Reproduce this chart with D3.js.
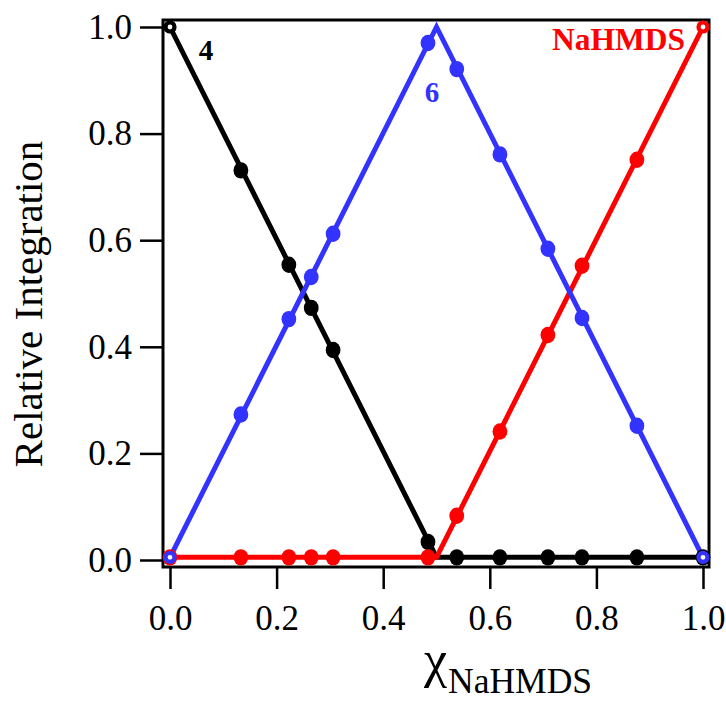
<!DOCTYPE html>
<html><head><meta charset="utf-8">
<script src="https://cdn.jsdelivr.net/npm/d3@7"></script>
<style>body{margin:0;background:#fff}svg{display:block}</style>
</head><body>
<script>
// ---- data ----
const xVals = [0, 0.133, 0.223, 0.265, 0.306, 0.484, 0.538, 0.619, 0.709, 0.773, 0.876, 1.0];
const series4 = [1.0, 0.731, 0.554, 0.473, 0.394, 0.034, 0.005, 0.005, 0.005, 0.005, 0.005, 0.005];
const series6 = [0.005, 0.273, 0.452, 0.531, 0.612, 0.970, 0.921, 0.761, 0.584, 0.454, 0.252, 0.005];
const seriesNa = [0.005, 0.005, 0.005, 0.005, 0.005, 0.005, 0.083, 0.241, 0.422, 0.552, 0.751, 1.0];
const fitX = [0, 0.5, 1.0];
const fit4 = [1.0, 0.005, 0.005];
const fit6 = [0.005, 1.0, 0.005];
const fitNa = [0.005, 0.005, 1.0];
const open4 = [0];          // indices drawn as open markers
const open6 = [0, 11];
const openNa = [11];
const xTicks = [0, 0.2, 0.4, 0.6, 0.8, 1.0];
const yTicks = [0, 0.2, 0.4, 0.6, 0.8, 1.0];

const W = 726, H = 703;
const svg = d3.select("body").append("svg").attr("width", W).attr("height", H);
const font = "'Liberation Serif','Times New Roman',serif";

const x = d3.scaleLinear().domain([0, 1]).range([170, 703]);
const y = d3.scaleLinear().domain([0, 1]).range([560, 27]);

// frame
const fL = 163, fR = 709, fT = 20, fB = 567;
svg.append("rect").attr("x", fL).attr("y", fT).attr("width", fR - fL).attr("height", fB - fT)
  .attr("fill", "none").attr("stroke", "#000").attr("stroke-width", 3);

// axes
const yAxis = d3.axisLeft(y).tickValues(yTicks).tickFormat(d3.format(".1f")).tickSize(23).tickPadding(8);
const gy = svg.append("g").attr("transform", `translate(${fL},0)`).call(yAxis);
const xAxis = d3.axisBottom(x).tickValues(xTicks).tickFormat(d3.format(".1f")).tickSize(22).tickPadding(16);
const gx = svg.append("g").attr("transform", `translate(0,${fB})`).call(xAxis);
[gx, gy].forEach(g => {
  g.select(".domain").remove();
  g.selectAll(".tick line").attr("stroke", "#000").attr("stroke-width", 2.5);
  g.selectAll(".tick text").attr("font-family", font).attr("font-size", 35).attr("fill", "#000");
});

// series
const data = [
  {vals: series4, fit: fit4, color: "#000000", open: open4},
  {vals: series6, fit: fit6, color: "#3333ff", open: open6},
  {vals: seriesNa, fit: fitNa, color: "#ff0000", open: openNa}
];
const line = d3.line().x(d => x(d[0])).y(d => y(d[1]));
const order = [0, 2, 1];
order.forEach(i => {
  const s = data[i];
  svg.append("path").datum(fitX.map((fx, k) => [fx, s.fit[k]]))
    .attr("d", line).attr("fill", "none").attr("stroke", s.color).attr("stroke-width", 5)
    .attr("stroke-linejoin", "miter");
});
order.forEach(i => {
  const s = data[i];
  const pts = xVals.map((xv, k) => ({x: xv, y: s.vals[k], open: s.open.includes(k)}));
  svg.append("g").selectAll("ellipse").data(pts).join("ellipse")
    .attr("cx", d => x(d.x)).attr("cy", d => y(d.y))
    .attr("rx", d => d.open ? 4.5 : 7.4).attr("ry", d => d.open ? 4.5 : 8.2)
    .attr("fill", d => d.open ? "#fff" : s.color)
    .attr("stroke", s.color).attr("stroke-width", d => d.open ? 4.2 : 0);
});

// series labels
svg.append("text").attr("x", 206).attr("y", 60).attr("text-anchor", "middle")
  .attr("font-family", font).attr("font-weight", "bold").attr("font-size", 29).attr("fill", "#000").text("4");
svg.append("text").attr("x", 432).attr("y", 102).attr("text-anchor", "middle")
  .attr("font-family", font).attr("font-weight", "bold").attr("font-size", 29).attr("fill", "#3333ff").text("6");
svg.append("text").attr("x", 685).attr("y", 50).attr("text-anchor", "end")
  .attr("font-family", font).attr("font-weight", "bold").attr("font-size", 31.5).attr("fill", "#ff0000").text("NaHMDS");

// axis titles
svg.append("text").attr("transform", "translate(42,304) rotate(-90)").attr("text-anchor", "middle")
  .attr("font-family", font).attr("font-size", 41).attr("fill", "#000").text("Relative Integration");
const xt = svg.append("text").attr("x", 424).attr("y", 677).attr("text-anchor", "start")
  .attr("font-family", font).attr("fill", "#000");
xt.append("tspan").attr("font-size", 52).text("χ");
xt.append("tspan").attr("font-size", 35.5).attr("dy", 16).attr("dx", 1).text("NaHMDS");
</script>
</body></html>
